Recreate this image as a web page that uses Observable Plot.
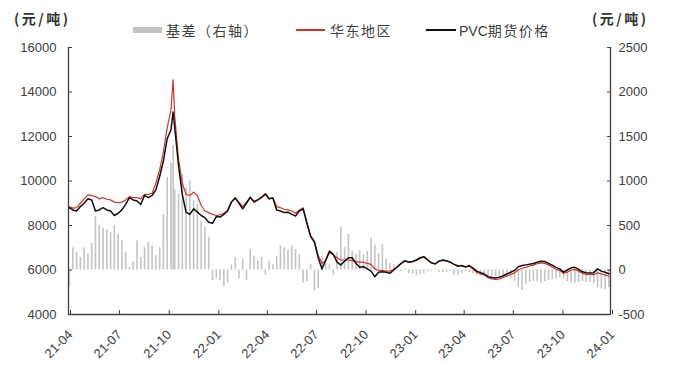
<!DOCTYPE html>
<html>
<head>
<meta charset="utf-8">
<script src="https://cdn.jsdelivr.net/npm/d3@7"></script>
<script src="https://cdn.jsdelivr.net/npm/@observablehq/plot@0.6"></script>
<style>
  body { margin: 0; background: #fff; }
  #chart { position: relative; width: 674px; height: 365px; background: #fff; }
  #head { position: relative; width: 674px; height: 38px; }
  .unit { position: absolute; top: 8px; font: bold 14px "Noto Sans CJK SC", sans-serif; color: #333; letter-spacing: 2.5px; }
  .item { position: absolute; top: 21px; font: 14px "Noto Sans CJK SC", sans-serif; color: #404040; letter-spacing: 1.5px; line-height: 18px; white-space: nowrap; }
  .sw { position: absolute; }
  .pvc { font-family: "Liberation Sans", Arial, sans-serif; letter-spacing: 0; }
</style>
</head>
<body>
<div id="chart">
  <div id="head">
    <div class="unit" style="left:14px">(元/吨)</div>
    <div class="unit" style="left:592px">(元/吨)</div>
    <div class="sw" style="left:133px;top:27px;width:29px;height:6px;background:#c4c4c4"></div>
    <div class="item" style="left:166px">基差（右轴）</div>
    <div class="sw" style="left:296px;top:29px;width:29px;height:1.5px;background:#d8312c"></div>
    <div class="item" style="left:330px">华东地区</div>
    <div class="sw" style="left:426px;top:29px;width:30px;height:1.5px;background:#111"></div>
    <div class="item" style="left:459px"><span class="pvc">PVC</span>期货价格</div>
  </div>
</div>
<script>
// Weekly observations, April 2021 to December 2023 (yuan/ton)
const dates = [
  "2021-04-02","2021-04-09","2021-04-16","2021-04-23","2021-04-30","2021-05-07","2021-05-14","2021-05-21","2021-05-28",
  "2021-06-04","2021-06-11","2021-06-18","2021-06-25","2021-07-02","2021-07-09","2021-07-16","2021-07-23","2021-07-30",
  "2021-08-06","2021-08-13","2021-08-20","2021-08-27","2021-09-03","2021-09-10","2021-09-17","2021-09-24","2021-10-01",
  "2021-10-08","2021-10-12","2021-10-15","2021-10-22","2021-10-29","2021-11-05","2021-11-12","2021-11-19","2021-11-26",
  "2021-12-03","2021-12-10","2021-12-17","2021-12-24","2021-12-31",
  "2022-01-07","2022-01-14","2022-01-21","2022-01-28","2022-02-04","2022-02-11","2022-02-18","2022-02-25","2022-03-04",
  "2022-03-11","2022-03-18","2022-03-25","2022-04-01","2022-04-08","2022-04-15","2022-04-22","2022-04-29","2022-05-06",
  "2022-05-13","2022-05-20","2022-05-27","2022-06-03","2022-06-10","2022-06-17","2022-06-24","2022-07-01","2022-07-08",
  "2022-07-15","2022-07-22","2022-07-29","2022-08-05","2022-08-12","2022-08-19","2022-08-26","2022-09-02","2022-09-09",
  "2022-09-16","2022-09-23","2022-09-30","2022-10-07","2022-10-14","2022-10-21","2022-10-28","2022-11-04","2022-11-11",
  "2022-11-18","2022-11-25","2022-12-02","2022-12-09","2022-12-16","2022-12-23","2022-12-30",
  "2023-01-06","2023-01-13","2023-01-20","2023-01-27","2023-02-03","2023-02-10","2023-02-17","2023-02-24","2023-03-03",
  "2023-03-10","2023-03-17","2023-03-24","2023-03-31","2023-04-07","2023-04-14","2023-04-21","2023-04-28","2023-05-05",
  "2023-05-12","2023-05-19","2023-05-26","2023-06-02","2023-06-09","2023-06-16","2023-06-23","2023-06-30","2023-07-07",
  "2023-07-14","2023-07-21","2023-07-28","2023-08-04","2023-08-11","2023-08-18","2023-08-25","2023-09-01","2023-09-08",
  "2023-09-15","2023-09-22","2023-09-29","2023-10-06","2023-10-13","2023-10-20","2023-10-27","2023-11-03","2023-11-10",
  "2023-11-17","2023-11-24","2023-12-01","2023-12-08","2023-12-15","2023-12-22","2023-12-29"
];

// PVC futures price
const futures = [
  8800,8700,8650,8850,9000,9200,9150,8650,8700,8800,8700,8650,8450,8550,8700,8950,9250,9150,9100,8950,
  9350,9250,9350,9600,10200,10900,11900,12300,13100,12400,10700,9400,8600,8500,8750,8600,8450,8350,8150,8100,8400,
  8380,8500,8650,9050,9250,9000,8750,9000,9270,9050,9150,9270,9430,9200,9230,8700,8650,8580,8600,8500,
  8430,8650,8750,8100,7500,7250,6550,6050,6450,6850,6700,6350,6220,6400,6550,6550,6300,6120,6150,6050,
  5950,5700,5900,5920,5900,5850,6000,6150,6300,6420,6350,6380,
  6450,6550,6600,6450,6320,6270,6400,6450,6420,6350,6250,6170,6200,6130,6200,6080,5950,5880,5820,5700,
  5660,5640,5680,5740,5820,5900,5980,6150,6200,6230,6260,6290,6350,6390,6380,6300,6220,6120,6050,5900,
  6000,6100,6120,6030,5920,5880,5870,5880,6050,5950,5900,5830
];

// East China spot price
const spot = [
  8850,8780,8800,9000,9200,9380,9350,9300,9200,9250,9180,9150,9050,9030,9050,9150,9300,9250,9250,9200,
  9400,9400,9450,9900,10500,11300,12400,13200,14550,12900,11000,9900,9400,9350,9500,9350,8900,8650,8580,8500,8450,
  8480,8550,8680,9050,9200,9050,8850,9050,9250,9100,9150,9250,9400,9200,9250,8850,8800,8730,8700,8650,
  8550,8700,8800,8150,7550,7300,6650,6300,6400,6800,6680,6550,6450,6450,6450,6420,6380,6350,6350,6300,
  6250,6050,5980,5980,5950,5950,6020,6150,6300,6400,6350,6380,
  6430,6520,6580,6450,6330,6280,6400,6430,6400,6350,6260,6200,6200,6150,6180,6050,5900,5830,5780,5650,
  5600,5580,5600,5680,5730,5800,5870,6000,6080,6120,6180,6220,6280,6320,6300,6230,6130,6030,5980,5850,
  5900,6000,6020,5950,5850,5800,5800,5790,5880,5820,5780,5720
];

// Basis (right axis)
const basis = [
  -190,250,200,140,250,180,300,600,500,470,450,420,500,400,330,200,30,90,330,140,
  250,310,270,160,250,620,1040,1200,1400,900,850,1070,920,1000,780,740,550,480,370,-120,-100,
  -120,-190,-150,60,140,-100,120,-120,230,150,100,140,-60,100,60,150,270,250,220,270,
  230,170,-150,-130,60,-230,-210,150,80,60,-60,200,480,250,400,210,180,220,170,210,
  360,280,180,290,120,70,60,10,-20,10,-40,-50,
  -60,-50,-40,-20,-10,10,-25,-30,-25,-10,-60,-60,-40,-20,-30,-40,-60,-70,-80,-70,
  -80,-75,-80,-70,-90,-100,-130,-200,-230,-160,-140,-130,-130,-150,-130,-120,-110,-100,-90,-100,
  -130,-150,-150,-140,-130,-140,-140,-150,-200,-210,-220,-200
];

// Axis ticks
const leftTicks = [4000, 6000, 8000, 10000, 12000, 14000, 16000];
const rightTicks = [-500, 0, 500, 1000, 1500, 2000, 2500];
const quarterDates = ["2021-04-01","2021-07-01","2021-10-01","2022-01-01","2022-04-01","2022-07-01",
  "2022-10-01","2023-01-01","2023-04-01","2023-07-01","2023-10-01","2024-01-01"];
const quarterLabels = ["21-04","21-07","21-10","22-01","22-04","22-07","22-10","23-01","23-04","23-07","23-10","24-01"];

// The basis shares the left scale: right 0 sits at left 6000, 1 right unit = 4 left units
const toLeft = v => 6000 + v * 4;
const fromLeft = v => (v - 6000) / 4;

const rows = dates.map((d, i) => ({
  date: new Date(d), futures: futures[i], spot: spot[i], basis: basis[i]
}));
const qDates = quarterDates.map(d => new Date(d));
const x0 = qDates[0], x1 = qDates[qDates.length - 1];
const axisColor = "#404040";

const chart = Plot.plot({
  width: 674,
  height: 327,
  marginLeft: 68,
  marginRight: 64,
  marginTop: 9,
  marginBottom: 51,
  x: { type: "utc", domain: [x0, x1] },
  y: { domain: [4000, 16000] },
  style: { fontFamily: "'Liberation Sans', Arial, sans-serif", fontSize: "13px", color: axisColor, background: "#fff" },
  marks: [
    Plot.ruleX(rows, { x: "date", y1: toLeft(0), y2: d => toLeft(d.basis), stroke: "#c4c4c4", strokeWidth: 1.6 }),
    Plot.line(rows, { x: "date", y: "spot", stroke: "#d8312c", strokeWidth: 1.2 }),
    Plot.line(rows, { x: "date", y: "futures", stroke: "#111", strokeWidth: 1.5 }),
    Plot.axisY({ anchor: "left", ticks: leftTicks, tickSize: -4, tickPadding: 16, tickFormat: d => String(d), stroke: axisColor }),
    Plot.axisY({ anchor: "right", ticks: rightTicks.map(toLeft), tickSize: -4, tickPadding: 12, tickFormat: d => String(fromLeft(d)), stroke: axisColor }),
    Plot.axisX({ ticks: qDates, tickFormat: (d, i) => quarterLabels[i], tickRotate: -45, tickSize: -4, tickPadding: 22, dx: 2, stroke: axisColor }),
    Plot.ruleX([x0], { stroke: axisColor, strokeWidth: 1.3 }),
    Plot.ruleX([x1], { stroke: axisColor, strokeWidth: 1.3 }),
    Plot.ruleY([4000], { stroke: axisColor, strokeWidth: 1.3 })
  ]
});
document.getElementById("chart").appendChild(chart);
</script>
</body>
</html>
